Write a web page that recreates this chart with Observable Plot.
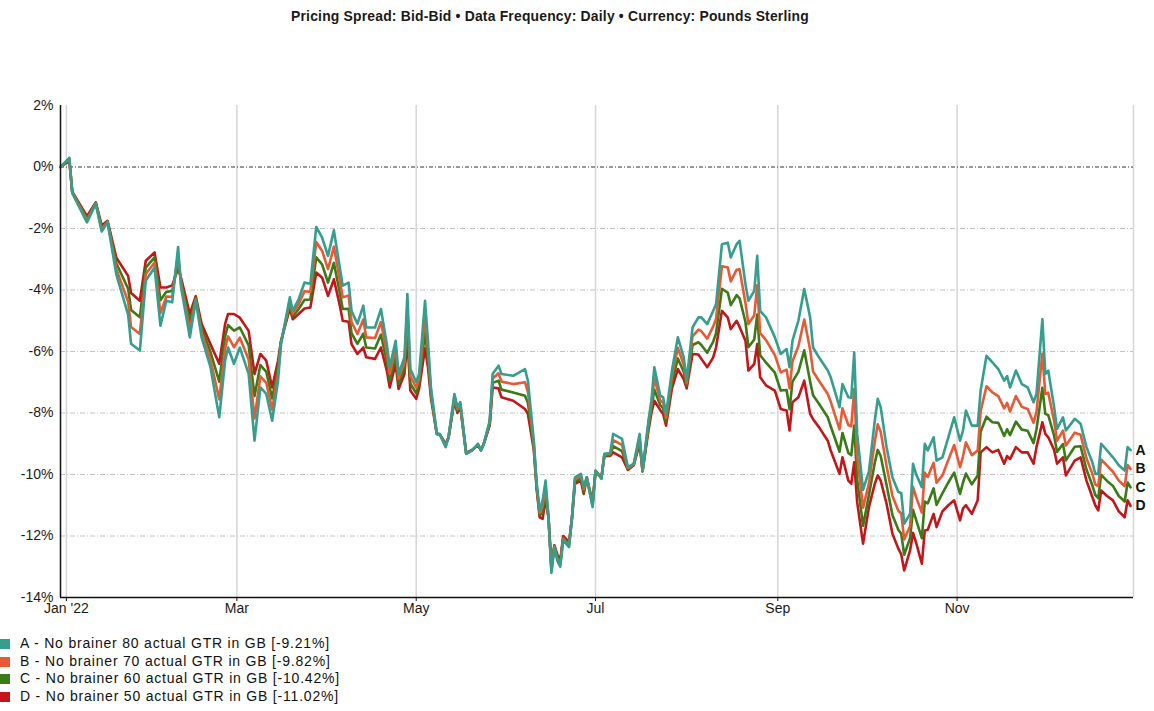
<!DOCTYPE html>
<html><head><meta charset="utf-8">
<script src="https://cdn.jsdelivr.net/npm/d3@7"></script>
<script src="https://cdn.jsdelivr.net/npm/@observablehq/plot@0.6"></script>
<style>
body{margin:0;background:#fff;font-family:"Liberation Sans",Arial,sans-serif;}
#title{height:32px;line-height:32px;width:1100px;text-align:center;font-weight:bold;font-size:13.9px;letter-spacing:0.2px;color:#1a1a1a;}
#legend{margin-top:3px;font-size:14px;letter-spacing:0.8px;color:#111;}
.row{position:relative;height:17.5px;line-height:17.5px;padding-left:20px;white-space:nowrap;}
.sw{position:absolute;left:-1px;top:4px;width:11px;height:10px;}
</style></head><body>
<div id="title"></div>
<div id="chart"></div>
<div id="legend"></div>
<script>
const titleText = "Pricing Spread: Bid-Bid \u2022 Data Frequency: Daily \u2022 Currency: Pounds Sterling";
const startDate = "2021-12-31";
const endDate = "2022-12-31";
const seriesKeys = ["A","B","C","D"];
const seriesNames = [
  "A - No brainer 80 actual GTR in GB [-9.21%]",
  "B - No brainer 70 actual GTR in GB [-9.82%]",
  "C - No brainer 60 actual GTR in GB [-10.42%]",
  "D - No brainer 50 actual GTR in GB [-11.02%]"
];
const seriesColors = ["#359e8c","#e65a36","#3a7a17","#c2161a"];
const xTickDates = ["2022-01-02","2022-03-01","2022-05-01","2022-07-01","2022-09-01","2022-11-01"];
const xTickLabels = ["Jan '22","Mar","May","Jul","Sep","Nov"];
const yTicks = [2,0,-2,-4,-6,-8,-10,-12,-14];

// day offsets from startDate
const dayOffsets = [
0,3,4,9,12,14,16,19,23,24,
27,29,32,34,36,38,40,41,44,46,
48,51,54,56,57,59,61,64,66,68,
70,72,74,75,78,79,81,83,85,87,
89,91,93,95,96,98,99,101,103,104,
107,109,111,112,114,115,117,118,119,121,
122,124,125,126,128,129,131,132,134,135,
136,138,140,142,143,144,146,147,149,150,
154,158,159,161,162,163,164,165,166,167,
168,169,170,171,173,174,175,177,178,179,
181,182,184,185,187,188,191,193,195,197,
198,200,201,202,204,205,206,208,210,212,
213,215,217,218,220,222,223,225,227,228,
230,231,233,234,236,237,238,240,243,245,
247,248,249,251,253,255,256,258,261,262,
265,266,268,269,270,271,273,275,277,278,
279,281,283,285,286,287,289,290,291,293,
294,295,297,298,300,302,304,306,307,308,
310,312,313,315,317,319,321,322,323,325,
327,329,331,332,334,335,336,338,339,341,
342,345,347,349,351,352,353,354,356,358,
360,362,363,364];

const seriesA = [
0,0.3,-0.85,-1.8,-1.2,-2.1,-1.8,-3.5,-4.8,-5.75,
-5.97,-3.7,-3.27,-5.16,-4.35,-4.4,-2.6,-3.9,-5.54,-4.35,
-5.54,-6.5,-8.14,-6.3,-5.87,-6.4,-5.87,-6.73,-8.9,-7.17,
-7.38,-8.25,-6.95,-5.76,-4.24,-4.68,-4.3,-3.76,-3.8,-1.95,
-2.3,-2.89,-2.06,-3.27,-3.86,-3.76,-4.68,-5.1,-4.51,-5.22,
-5.22,-4.62,-5.76,-6.51,-5.65,-6.73,-6.19,-4.13,-6.57,-7.0,
-6.73,-4.35,-5.65,-7.17,-8.68,-8.68,-9.11,-8.79,-7.38,-7.81,
-7.65,-9.33,-9.22,-9.0,-9.22,-9.0,-8.25,-6.73,-6.46,-6.73,
-6.79,-6.57,-6.95,-8.9,-10.3,-11.17,-10.84,-10.2,-11.39,-13.2,
-12.36,-12.8,-13.0,-12.14,-12.36,-11.39,-10.09,-9.98,-10.41,-10.09,
-11.06,-9.87,-10.14,-9.33,-9.3,-8.68,-8.84,-9.76,-9.65,-8.68,
-9.87,-8.25,-7.6,-6.51,-7.43,-7.49,-8.03,-6.62,-5.54,-6.19,
-6.95,-5.22,-4.89,-4.89,-5.11,-4.68,-4.46,-2.51,-2.46,-2.94,
-2.51,-2.4,-3.81,-4.35,-4.03,-2.89,-4.68,-4.89,-5.54,-6.08,
-5.92,-6.51,-5.65,-5.0,-3.97,-4.89,-5.87,-6.19,-6.62,-6.84,
-7.81,-7.06,-7.49,-7.5,-6.03,-8.68,-10.5,-9.9,-8.25,-7.54,
-7.81,-9.11,-10.09,-10.57,-10.6,-11.6,-11.28,-9.65,-9.98,-10.41,
-9.0,-9.22,-8.79,-9.55,-9.44,-8.79,-8.14,-8.9,-8.57,-7.92,
-8.41,-8.41,-7.27,-6.14,-6.35,-6.57,-6.95,-6.8,-7.17,-6.62,
-7.06,-7.17,-7.65,-7.38,-4.95,-6.73,-6.62,-7.81,-8.52,-8.14,
-8.57,-8.19,-8.35,-9.11,-9.6,-9.98,-9.98,-9.0,-9.22,-9.44,
-9.7,-9.87,-9.11,-9.21];

const seriesB = [
0,0.27,-0.83,-1.73,-1.18,-2.03,-1.78,-3.32,-4.38,-5.2,
-5.43,-3.48,-3.11,-4.75,-4.21,-4.22,-2.83,-3.8,-5.29,-4.3,
-5.39,-6.25,-7.56,-5.9,-5.51,-5.86,-5.55,-6.26,-8.18,-6.81,
-7.02,-7.89,-6.73,-5.73,-4.36,-4.77,-4.46,-4.04,-4.06,-2.44,
-2.73,-3.32,-2.59,-3.68,-4.24,-4.18,-5.04,-5.43,-4.96,-5.54,
-5.56,-5.04,-6.05,-6.73,-5.9,-6.89,-6.37,-4.62,-6.8,-7.18,
-6.89,-4.87,-5.94,-7.28,-8.68,-8.69,-9.07,-8.79,-7.45,-7.87,
-7.7,-9.32,-9.21,-9.02,-9.21,-9.0,-8.3,-6.88,-6.71,-6.98,
-7.06,-7.0,-7.31,-9.0,-10.37,-11.24,-11.04,-10.4,-11.39,-13.13,
-12.34,-12.73,-12.93,-12.09,-12.31,-11.39,-10.16,-10.05,-10.48,-10.09,
-11.01,-9.88,-10.13,-9.35,-9.33,-8.88,-9.04,-9.79,-9.67,-8.79,
-9.88,-8.36,-7.73,-6.87,-7.59,-7.67,-8.16,-6.81,-5.88,-6.43,
-7.03,-5.51,-5.29,-5.34,-5.58,-5.19,-4.93,-3.23,-3.27,-3.72,
-3.34,-3.33,-4.42,-5.11,-4.82,-3.85,-5.4,-5.63,-6.12,-6.68,
-6.59,-7.2,-6.32,-5.83,-4.96,-5.94,-6.65,-6.95,-7.38,-7.63,
-8.53,-7.85,-8.39,-8.43,-7.22,-9.42,-11.08,-10.29,-8.93,-8.37,
-8.61,-9.72,-10.7,-11.18,-11.27,-12.11,-11.68,-10.4,-10.72,-11.24,
-9.94,-10.08,-9.62,-10.27,-10.03,-9.53,-9.04,-9.76,-9.41,-8.95,
-9.37,-9.22,-7.94,-7.13,-7.33,-7.45,-7.85,-7.67,-7.95,-7.45,
-7.8,-7.87,-8.32,-7.96,-6.07,-7.38,-7.34,-8.27,-8.9,-8.57,
-9.06,-8.64,-8.71,-9.47,-9.98,-10.32,-10.38,-9.51,-9.71,-9.91,
-10.2,-10.38,-9.69,-9.82];

const seriesC = [
0,0.23,-0.82,-1.67,-1.17,-1.97,-1.77,-3.13,-3.96,-4.65,
-4.89,-3.27,-2.94,-4.33,-4.06,-4.03,-3.07,-3.7,-5.03,-4.25,
-5.25,-6.01,-6.98,-5.5,-5.14,-5.32,-5.22,-5.8,-7.45,-6.44,
-6.66,-7.53,-6.52,-5.69,-4.48,-4.86,-4.62,-4.32,-4.31,-2.94,
-3.17,-3.76,-3.12,-4.09,-4.62,-4.61,-5.4,-5.75,-5.42,-5.87,
-5.9,-5.45,-6.33,-6.95,-6.15,-7.06,-6.55,-5.11,-7.04,-7.36,
-7.04,-5.38,-6.22,-7.39,-8.68,-8.69,-9.04,-8.8,-7.53,-7.94,
-7.75,-9.31,-9.21,-9.03,-9.21,-9.0,-8.35,-7.02,-6.95,-7.24,
-7.33,-7.44,-7.67,-9.1,-10.43,-11.32,-11.24,-10.6,-11.4,-13.07,
-12.32,-12.67,-12.87,-12.05,-12.25,-11.4,-10.23,-10.13,-10.56,-10.1,
-10.95,-9.89,-10.11,-9.38,-9.37,-9.08,-9.24,-9.82,-9.68,-8.89,
-9.89,-8.46,-7.87,-7.24,-7.74,-7.85,-8.28,-7.01,-6.23,-6.66,
-7.12,-5.79,-5.7,-5.79,-6.04,-5.69,-5.4,-3.96,-4.09,-4.49,
-4.17,-4.27,-5.04,-5.86,-5.61,-4.8,-6.12,-6.36,-6.69,-7.27,
-7.25,-7.88,-6.98,-6.66,-5.96,-6.98,-7.42,-7.7,-8.14,-8.43,
-9.26,-8.65,-9.3,-9.37,-8.41,-10.16,-11.67,-10.67,-9.62,-9.2,
-9.4,-10.34,-11.32,-11.8,-11.93,-12.61,-12.07,-11.15,-11.46,-12.07,
-10.88,-10.94,-10.45,-10.99,-10.61,-10.26,-9.94,-10.63,-10.26,-9.97,
-10.32,-10.03,-8.61,-8.12,-8.3,-8.32,-8.75,-8.53,-8.72,-8.28,
-8.54,-8.58,-8.98,-8.53,-7.18,-8.03,-8.07,-8.74,-9.27,-9.01,
-9.54,-9.1,-9.08,-9.84,-10.35,-10.66,-10.77,-10.01,-10.21,-10.37,
-10.7,-10.88,-10.26,-10.42];

const seriesD = [
0,0.2,-0.8,-1.6,-1.15,-1.9,-1.75,-2.95,-3.54,-4.1,
-4.35,-3.05,-2.78,-3.92,-3.92,-3.85,-3.3,-3.6,-4.78,-4.2,
-5.1,-5.76,-6.4,-5.1,-4.78,-4.78,-4.9,-5.33,-6.73,-6.08,
-6.3,-7.17,-6.3,-5.66,-4.6,-4.95,-4.78,-4.6,-4.57,-3.43,
-3.6,-4.19,-3.65,-4.5,-5.0,-5.03,-5.76,-6.08,-5.87,-6.19,
-6.24,-5.87,-6.62,-7.17,-6.4,-7.22,-6.73,-5.6,-7.27,-7.54,
-7.2,-5.9,-6.51,-7.5,-8.68,-8.7,-9.0,-8.8,-7.6,-8.0,
-7.8,-9.3,-9.2,-9.05,-9.2,-9.0,-8.4,-7.17,-7.2,-7.49,
-7.6,-7.87,-8.03,-9.2,-10.5,-11.39,-11.44,-10.8,-11.4,-13.0,
-12.3,-12.6,-12.8,-12.0,-12.2,-11.4,-10.3,-10.2,-10.63,-10.1,
-10.9,-9.9,-10.1,-9.4,-9.4,-9.28,-9.44,-9.85,-9.7,-9.0,
-9.9,-8.57,-8.0,-7.6,-7.9,-8.03,-8.41,-7.2,-6.57,-6.9,
-7.2,-6.08,-6.1,-6.24,-6.51,-6.2,-5.87,-4.68,-4.9,-5.27,
-5.0,-5.2,-5.65,-6.62,-6.4,-5.76,-6.84,-7.1,-7.27,-7.87,
-7.92,-8.57,-7.65,-7.49,-6.95,-8.03,-8.2,-8.46,-8.9,-9.22,
-9.98,-9.44,-10.2,-10.3,-9.6,-10.9,-12.25,-11.06,-10.3,-10.03,
-10.2,-10.95,-11.93,-12.41,-12.6,-13.12,-12.47,-11.9,-12.2,-12.9,
-11.82,-11.8,-11.28,-11.71,-11.2,-11.0,-10.84,-11.49,-11.1,-11.0,
-11.28,-10.84,-9.28,-9.11,-9.28,-9.2,-9.65,-9.4,-9.5,-9.11,
-9.28,-9.28,-9.65,-9.11,-8.3,-8.68,-8.79,-9.2,-9.65,-9.44,
-10.03,-9.55,-9.44,-10.2,-10.73,-11.0,-11.17,-10.52,-10.7,-10.84,
-11.2,-11.39,-10.84,-11.02];

const allSeries = [seriesA, seriesB, seriesC, seriesD];
const start = new Date(startDate);
const dates = dayOffsets.map(d => d3.utcDay.offset(start, d));

// rows drawn D first, A last (A on top)
const rows = [];
for (let i = seriesKeys.length - 1; i >= 0; i--) {
  allSeries[i].forEach((v, j) => rows.push({date: dates[j], value: v, key: seriesKeys[i]}));
}
const lastRows = seriesKeys.map((k, i) => ({date: dates[dates.length - 1], value: allSeries[i][allSeries[i].length - 1], key: k}));

const xDomain = [new Date(startDate), new Date(endDate)];
const tickDates = xTickDates.map(s => new Date(s));
const gridDates = [...tickDates, new Date(endDate)];
const fontFamily = '"Liberation Sans", Arial, sans-serif';

document.getElementById("title").textContent = titleText;

const chart = Plot.plot({
  width: 1154,
  height: 600,
  marginLeft: 60,
  marginRight: 21,
  marginTop: 73,
  marginBottom: 35,
  style: {fontFamily, fontSize: "14px", color: "#1a1a1a", background: "#fff"},
  x: {type: "utc", domain: xDomain, label: null},
  y: {domain: [-14, 2], label: null},
  color: {domain: seriesKeys, range: seriesColors},
  marks: [
    Plot.ruleX(gridDates, {stroke: "#d6d6d6", strokeWidth: 1.5}),
    Plot.ruleY(yTicks.filter(t => t !== 0 && t !== 2 && t !== -14), {stroke: "#c4c4c4", strokeWidth: 1, strokeDasharray: "5,2,1,2"}),
    Plot.ruleY([0], {stroke: "#333", strokeWidth: 1, strokeDasharray: "4,2,1,2"}),
    Plot.line(rows, {x: "date", y: "value", z: "key", stroke: "key", strokeWidth: 2.6, curve: "linear"}),
    Plot.ruleX([xDomain[0]], {stroke: "#111", strokeWidth: 1.5}),
    Plot.ruleY([-14], {stroke: "#111", strokeWidth: 1.5}),
    Plot.axisY({ticks: yTicks, tickFormat: d => `${d}%`, tickSize: 0, tickPadding: 7, fontSize: 14, letterSpacing: "0.8px", label: null}),
    Plot.axisX({ticks: tickDates, tickFormat: (d, i) => xTickLabels[i], tickSize: 4, tickPadding: 2, fontSize: 14, letterSpacing: "0.9px", stroke: "#111", label: null}),
    Plot.text(lastRows, {x: "date", y: "value", text: "key", dx: 5, textAnchor: "start", fontWeight: "bold", fontSize: 14, fill: "#111"})
  ]
});
document.getElementById("chart").appendChild(chart);

const legend = document.getElementById("legend");
seriesNames.forEach((name, i) => {
  const row = document.createElement("div");
  row.className = "row";
  const sw = document.createElement("span");
  sw.className = "sw";
  sw.style.background = seriesColors[i];
  row.appendChild(sw);
  row.appendChild(document.createTextNode(name));
  legend.appendChild(row);
});
</script>
</body></html>
